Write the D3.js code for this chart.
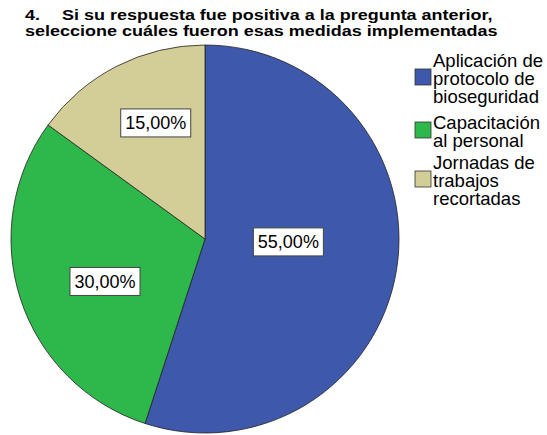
<!DOCTYPE html>
<html>
<head>
<meta charset="utf-8">
<script src="https://cdn.jsdelivr.net/npm/d3@7"></script>
<style>
  body { margin: 0; background: #fff; }
  svg { display: block; font-family: "Liberation Sans", Arial, sans-serif; }
</style>
</head>
<body>
<div id="chart"></div>
<script>
const categories = ["Aplicación de protocolo de bioseguridad", "Capacitación al personal", "Jornadas de trabajos recortadas"];
const legendLines = [["Aplicación de", "protocolo de", "bioseguridad"], ["Capacitación", "al personal"], ["Jornadas de", "trabajos", "recortadas"]];
const values = [55, 30, 15];
const colors = ["#3e58ab", "#2eb84b", "#d3ce98"];

const width = 547, height = 435;
const cx = 205, cy = 239, radius = 194;
// label placement: fraction of radius and angle nudge (degrees) from slice middle
const labelFrac = [0.43, 0.56, 0.65];
const labelNudge = [-7, -5, 4];

const svg = d3.select("#chart").append("svg")
  .attr("width", width)
  .attr("height", height);

// title (glyphs a little squashed vertically, as in the original)
const title = svg.append("g").attr("font-weight", "bold").attr("font-size", "18px").attr("fill", "#000");
[["4.", 25, 20], ["Si su respuesta fue positiva a la pregunta anterior,", 62, 20],
 ["seleccione cuáles fueron esas medidas implementadas", 25, 36]].forEach(([t, x, y]) => {
  title.append("text")
    .attr("transform", `translate(${x},${y}) scale(1,0.82)`)
    .text(t);
});

const pie = d3.pie().sort(null).value(d => d)(values);
const arc = d3.arc().innerRadius(0).outerRadius(radius);

const g = svg.append("g").attr("transform", `translate(${cx},${cy})`);

g.selectAll("path")
  .data(pie)
  .join("path")
  .attr("d", arc)
  .attr("fill", (d, i) => colors[i])
  .attr("stroke", "#222")
  .attr("stroke-width", 0.8);

const labels = g.selectAll("g.lab")
  .data(pie)
  .join("g")
  .attr("class", "lab")
  .attr("transform", (d, i) => {
    const r = radius * labelFrac[i];
    const a = (d.startAngle + d.endAngle) / 2 + labelNudge[i] * Math.PI / 180;
    return `translate(${r * Math.sin(a)},${-r * Math.cos(a)})`;
  });

labels.append("rect")
  .attr("x", -35).attr("y", -14)
  .attr("width", 70).attr("height", 28)
  .attr("fill", "#fff")
  .attr("stroke", "#444")
  .attr("stroke-width", 1);

labels.append("text")
  .attr("text-anchor", "middle")
  .attr("dy", "0.36em")
  .attr("font-size", "18px")
  .attr("fill", "#000")
  .text((d, i) => values[i].toFixed(2).replace(".", ",") + "%");

// legend
const legendTop = [67, 129, 169];
const legend = svg.append("g");
categories.forEach((c, i) => {
  const lines = legendLines[i];
  const mid = legendTop[i] + (lines.length - 1) * 18 / 2;
  legend.append("rect")
    .attr("x", 415).attr("y", mid - 16)
    .attr("width", 16).attr("height", 16)
    .attr("fill", colors[i])
    .attr("stroke", "#333")
    .attr("stroke-width", 0.8);
  lines.forEach((t, j) => {
    legend.append("text")
      .attr("x", 433)
      .attr("y", legendTop[i] + j * 18)
      .attr("font-size", "18.5px")
      .attr("fill", "#000")
      .text(t);
  });
});
</script>
</body>
</html>
